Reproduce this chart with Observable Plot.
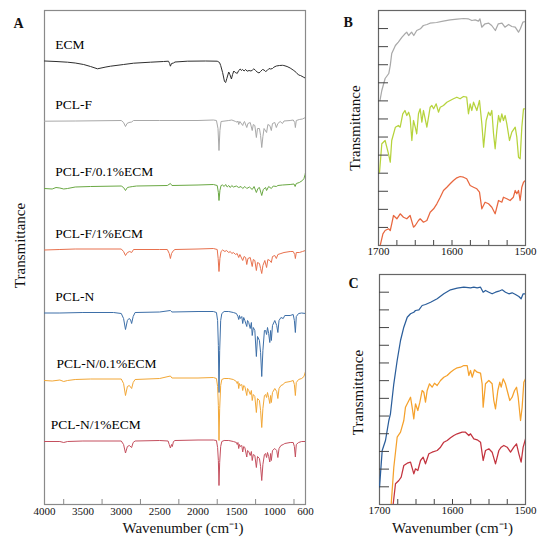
<!DOCTYPE html>
<html><head><meta charset="utf-8">
<script src="https://cdn.jsdelivr.net/npm/d3@7"></script>
<script src="https://cdn.jsdelivr.net/npm/@observablehq/plot@0.6"></script>
<style>
body{margin:0;background:#fff;}
#wrap{position:relative;width:543px;height:541px;overflow:hidden;background:#fff;}
#wrap svg{position:absolute;overflow:visible;}
</style></head><body><div id="wrap"></div>
<script>
// ---------- Panel A spectra: [wavenumber cm-1, reading (inverted transmittance units)] ----------
const ecm = [[4000,60.5],[3850,61],[3700,61.7],[3600,62.5],[3490,64],[3400,66],[3310,68.3],[3200,66.5],[3140,65.7],[2970,64],[2840,62.7],[2620,61.7],[2450,61],[2385,60.7],[2370,63],[2360,65.7],[2345,63],[2320,62.5],[2300,61.5],[2140,60.7],[1900,60.5],[1750,60.7],[1720,62],[1705,65],[1680,72],[1655,81],[1640,82],[1625,78],[1600,71.5],[1585,74],[1565,78.5],[1550,74],[1534,70.5],[1515,72],[1500,72.5],[1490,73],[1470,70],[1450,68.5],[1435,70],[1420,69],[1400,70.5],[1380,69],[1360,70.7],[1335,70],[1310,70.5],[1290,69.5],[1273,68.3],[1250,70],[1230,71.5],[1205,72.5],[1186,71],[1160,69],[1140,69.5],[1120,71],[1099,70],[1075,68],[1055,68.5],[1030,68],[1012,66.7],[980,65.5],[940,65],[900,64.8],[882,65],[840,66],[800,67.5],[752,70],[720,72],[690,74.5],[665,75],[630,76.5],[600,77.7]];
const pclF = [[4000,120.7],[3600,120.5],[3000,120],[2970,122],[2945,126],[2925,123],[2900,122],[2865,121.5],[2840,120],[2500,120],[2000,120],[1800,119.5],[1760,120],[1740,128],[1727,150],[1715,130],[1700,121],[1600,120],[1560,119.5],[1510,121],[1490,121.7],[1480,120.5],[1470,124],[1455,121],[1418,125],[1405,122],[1395,121],[1365,127],[1350,123],[1320,122],[1294,130],[1280,124],[1260,125],[1240,137],[1225,128],[1200,128],[1185,135],[1170,147],[1155,136],[1140,128],[1107,132],[1090,124],[1065,125],[1045,130],[1030,123],[1000,122],[980,127],[960,123],[930,121],[900,123],[880,120.5],[800,120],[760,119.5],[740,122],[732,127],[720,120],[680,119],[640,118.5],[600,117]];
const pclF01 = [[4000,188],[3900,188.5],[3850,187],[3800,187.5],[3750,188.5],[3700,188],[3600,186.5],[3400,186],[3000,185.5],[2970,187],[2945,190],[2920,187],[2890,186.5],[2850,186],[2800,185.5],[2400,185],[2360,183],[2340,185],[2000,184.5],[1800,184],[1750,185],[1735,192],[1727,200],[1715,190],[1700,185],[1680,184.5],[1660,186],[1640,184],[1620,186.5],[1600,185],[1580,187],[1560,185],[1540,186.5],[1500,185.5],[1470,187],[1440,186],[1418,188],[1390,186],[1365,188],[1330,186.5],[1294,189],[1270,186],[1240,192],[1220,188],[1200,187],[1170,195],[1150,189],[1120,187],[1107,190],[1080,186],[1045,188],[1020,185.5],[980,186],[960,185],[900,184.5],[800,184],[750,183.5],[735,186],[720,183],[680,182],[640,180],[620,178],[605,174],[600,172]];
const pclF1 = [[4000,249.5],[3800,249],[3600,248.5],[3000,248.5],[2970,251],[2945,255],[2920,252],[2890,251],[2865,252],[2840,249],[2500,249],[2400,249],[2375,253],[2360,258],[2345,253],[2320,250],[2300,249],[2000,248.5],[1800,248],[1750,249],[1738,258],[1727,271],[1715,258],[1700,251],[1680,249.5],[1650,251],[1630,250],[1600,252],[1580,251],[1560,253],[1540,252],[1510,254],[1490,253],[1470,257],[1455,254],[1418,260],[1400,256],[1380,257],[1365,264],[1350,258],[1320,257],[1294,266],[1280,259],[1260,260],[1240,270],[1225,262],[1200,263],[1185,268],[1170,273],[1155,265],[1130,260],[1107,267],[1090,259],[1065,260],[1045,262],[1030,256],[1000,255],[980,258],[960,254],[920,253],[880,252],[800,251],[760,251],[740,254],[732,258],[720,252],[680,252],[640,251],[600,250]];
const pclN = [[4000,312.5],[3800,312.5],[3500,312],[3100,312],[3000,313],[2970,318],[2945,329],[2920,320],[2900,318],[2880,319],[2865,323],[2845,316],[2820,312],[2500,311.5],[2360,310],[2340,311.5],[2000,311],[1800,311],[1760,312],[1745,320],[1735,345],[1727,392],[1718,350],[1705,320],[1690,313],[1660,311],[1600,311],[1540,312],[1500,313],[1480,316],[1470,319],[1460,315],[1450,318],[1430,316],[1418,323],[1405,317],[1390,320],[1365,326],[1355,320],[1340,322],[1320,328],[1305,322],[1294,335],[1280,327],[1260,330],[1240,356],[1225,336],[1200,340],[1185,352],[1170,376],[1155,350],[1135,330],[1120,330],[1107,334],[1095,327],[1080,333],[1065,342],[1055,330],[1045,340],[1030,325],[1000,320],[975,325],[960,332],[945,320],[920,317],[890,318],[870,315],[800,315],[760,314],[745,320],[732,332],[720,316],[690,313],[650,312.5],[600,313]];
const pclN01 = [[4000,380],[3900,380.5],[3800,379.5],[3750,381],[3700,380],[3600,379],[3400,378.5],[3000,378.5],[2970,383],[2945,395],[2920,386],[2895,385],[2865,388],[2845,382],[2820,379],[2500,378],[2360,375.5],[2340,377.5],[2000,377.5],[1800,377],[1760,378],[1745,386],[1735,405],[1727,440],[1718,408],[1705,385],[1690,379],[1660,378],[1600,378],[1540,379],[1500,381],[1490,383],[1480,381],[1470,388],[1460,383],[1450,385],[1430,384],[1418,390],[1405,385],[1390,386],[1365,395],[1355,388],[1340,390],[1320,394],[1305,390],[1294,400],[1280,394],[1260,396],[1240,412],[1225,398],[1200,400],[1185,410],[1170,427],[1155,408],[1135,395],[1120,394],[1107,397],[1095,392],[1080,397],[1065,403],[1055,395],[1045,402],[1030,392],[1000,388],[975,391],[960,398],[945,388],[920,385],[890,384],[870,382],[800,381],[760,380],[745,384],[732,395],[720,382],[690,379],[650,378],[620,376],[600,371]];
const pclN1 = [[4000,441],[3800,441],[3750,442],[3700,441],[3500,440.5],[3000,440.5],[2970,444],[2945,452.5],[2920,446],[2895,445],[2865,447],[2845,442],[2820,440.5],[2500,440],[2390,440.5],[2375,444],[2360,447.5],[2345,444],[2335,446],[2320,441],[2300,440],[2000,439.5],[1800,439.5],[1760,440],[1745,447],[1735,460],[1727,485],[1718,462],[1705,446],[1690,441],[1660,440],[1600,440],[1540,441],[1500,442],[1490,444],[1480,442],[1470,448],[1460,444],[1450,446],[1430,445],[1418,451.5],[1405,446],[1390,447],[1365,456.5],[1355,450],[1340,451],[1320,455],[1305,451],[1294,460],[1280,454],[1260,455],[1240,467],[1225,456],[1200,458],[1185,466],[1170,480],[1155,464],[1135,454],[1120,453],[1107,457],[1095,452],[1080,456],[1065,461.5],[1055,453],[1045,460],[1030,450],[1000,448],[975,450],[960,457],[945,448],[920,445],[890,444],[870,443],[800,442],[760,442],[745,446],[732,456.5],[720,444],[690,442],[650,441],[600,441]];

// ---------- Panel B spectra (1700-1500 cm-1) ----------
const bGray = [[1698,100],[1695.5,90],[1691,78],[1686,73],[1684,65],[1682,53],[1677,45],[1673,41.7],[1668,36.7],[1664,33.3],[1661.5,31.7],[1659,35],[1655,31.7],[1652,35],[1648,30],[1643,28.3],[1639,25],[1634,24],[1630,22.7],[1621,22],[1612,20.7],[1602.5,19.3],[1593,18.7],[1584,18],[1578,18.3],[1573,20],[1568.5,19.3],[1564,20.7],[1562,18.3],[1559.5,26.7],[1555,23.3],[1550,22.7],[1546,25],[1541,30],[1537,23.3],[1532,22.7],[1528,26.7],[1523,24],[1518.6,26],[1514,26.7],[1509.5,31.7],[1507,28.3],[1503.6,21.7],[1500,21]];
const bGreen = [[1698.6,171.7],[1695.5,143.3],[1691,140],[1686.4,153.3],[1684,161.7],[1682,140],[1677,126.7],[1673,125],[1670.5,126.7],[1667,113.3],[1664,110],[1661.5,115],[1659,111.7],[1657,116.7],[1654.6,140],[1652.4,120],[1650,126.7],[1648,133.3],[1645.6,113.3],[1643.3,108.3],[1641,121.7],[1638.8,110],[1634.2,126.7],[1629.7,106.7],[1627.4,105],[1625,108.3],[1621.5,103.3],[1618.4,111.7],[1616,106.7],[1611.6,105],[1607,101.7],[1602.5,100],[1598,98.3],[1593.4,96.7],[1589,98.3],[1584.4,96],[1580,96.7],[1577.6,113.3],[1575.3,103.3],[1573,110],[1570.7,101.7],[1566.2,110],[1562.6,100],[1559.4,123.3],[1557,146.7],[1553.5,120],[1550.3,111.7],[1548,115],[1545.8,110],[1543.5,133.3],[1541.3,148.3],[1539,130],[1536.7,115],[1534.5,121.7],[1532.2,113.3],[1530,120],[1527.7,115],[1525.4,123.3],[1521.8,140],[1518.6,131.7],[1514,126.7],[1511.8,136.7],[1509.5,156.7],[1507.3,158.3],[1505,126.7],[1502.7,108.3],[1500,108.3]];
const bRed = [[1697.7,245],[1694,233.3],[1691,230],[1686.4,228.3],[1684,230],[1682,223.3],[1679.6,215],[1675,218.3],[1670.5,213.3],[1666,216.7],[1661.5,218.3],[1657,215],[1652.4,226.7],[1650,225],[1645.6,220],[1643.3,218.3],[1638.8,221.7],[1634.2,220],[1629.7,211.7],[1625,208.3],[1620.6,203.3],[1616,196.7],[1611.6,190],[1607,186.7],[1602.5,183.3],[1598,180],[1593.4,177.3],[1589,176],[1584.4,176.7],[1580,178.3],[1575.3,185],[1570.7,186.7],[1566.2,188.3],[1562.6,191.7],[1559.4,208.3],[1555,201.7],[1550.3,203.3],[1545.8,206.7],[1541.3,213.3],[1536.7,200],[1532.2,201.7],[1530,196.7],[1525.4,198.3],[1521,200],[1516.5,196.7],[1514,190],[1511.8,193.3],[1509.5,190],[1507.3,200],[1505,186.7],[1502.7,181.7],[1500,180]];

// ---------- Panel C spectra (1700-1500 cm-1) ----------
const cBlue = [[1700,486.7],[1696.3,450],[1691.8,440],[1687.2,420],[1685,413.3],[1680.4,383.3],[1675.8,360],[1671.2,340],[1666.7,326.7],[1662,316.7],[1657.5,313.3],[1653,311.7],[1650.7,310],[1646,309.3],[1641.6,305],[1637,304],[1630,301.7],[1621,298.3],[1611.9,293.3],[1602.7,289.3],[1593.6,287.7],[1584.5,286.7],[1575.3,287.3],[1570.8,286.7],[1566.2,287.3],[1561.6,286.7],[1558,291.7],[1554.8,290],[1550.2,291.7],[1545.7,293.3],[1541.1,291.7],[1536.5,290.7],[1532,289.3],[1527.4,291.7],[1522.8,293.3],[1518.3,292.3],[1513.7,294],[1509.1,296],[1506,298.3],[1503.2,293.3],[1500,293.3]];
const cOrange = [[1684,504],[1680.4,466.7],[1675.8,436.7],[1671.2,431.7],[1666.7,420],[1664.4,406.7],[1662,403.3],[1657.5,396.7],[1655.3,406.7],[1653,418.3],[1650.7,403.3],[1647.5,410],[1644.7,401.7],[1641.6,390],[1639.3,391.7],[1637,401.7],[1634.7,390],[1631.5,383.3],[1627.9,386.7],[1624.7,382.7],[1621,385],[1616.4,380],[1611.9,376.7],[1607.3,375],[1602.7,371.7],[1598.2,369.3],[1593.6,367.3],[1589,366.7],[1584.5,365],[1579.9,365],[1577.6,375],[1575.3,370],[1573,376.7],[1569.9,369.3],[1566.2,371.7],[1561.6,372.7],[1559.4,383.3],[1558,406.7],[1554.8,383.3],[1550.2,380],[1545.7,383.3],[1543.4,400],[1541.1,408.3],[1537.9,390],[1535.2,381.7],[1533.3,386.7],[1530.6,378.3],[1527.4,383.3],[1525.1,390],[1521.5,400],[1518.3,396.7],[1515,390],[1512.3,386.7],[1510,396.7],[1506.8,420],[1504.6,406.7],[1502.3,381.7],[1500,378.3]];
const cRed = [[1681.3,504],[1678.1,483.3],[1673.5,480],[1670.3,476.7],[1666.7,465],[1662,462.7],[1657.5,461.7],[1653,473.3],[1650.7,468.3],[1647.5,470],[1643.8,460],[1640.2,456.7],[1637,463.3],[1632.4,453.3],[1627.9,451.7],[1621,450],[1616.4,446.7],[1611.9,441.7],[1607.3,440],[1602.7,437.3],[1598.2,435],[1593.6,433.3],[1586.8,431.7],[1582.2,431.7],[1577.6,435],[1575.3,433.3],[1570.8,438.3],[1566.2,439.3],[1561.6,441.7],[1558,460],[1554.8,450],[1550.2,448.3],[1545.7,451.7],[1541.1,463.3],[1536.5,450],[1533.3,446.7],[1529.7,445],[1525.1,446.7],[1520.5,451.7],[1516,446.7],[1512.3,443.3],[1509.1,453.3],[1506,461.7],[1503.2,446.7],[1500,438.3]];

const namesA = ["ECM","PCL-F","PCL-F/0.1%ECM","PCL-F/1%ECM","PCL-N","PCL-N/0.1%ECM","PCL-N/1%ECM"];
const dataA = [ecm, pclF, pclF01, pclF1, pclN, pclN01, pclN1];
const colorsA = ["#2e2e2e","#a8a8a8","#6aa843","#e8714e","#3d6fa8","#f2a736","#c44f5e"];
const xLabelTicksA = [4000,3500,3000,2500,2000,1500,1000,600];
const xMinorTicksA = [3750,3250,2750,2250,1750,1250,750];
const xLabelTicksBC = [1700,1600,1500];
const xMinorTicksBC = [1675,1650,1625,1600,1575,1550,1525];
const dataB = [bGray, bGreen, bRed];
const colorsB = ["#a9a9a9","#b6d33c","#e8673f"];
const dataC = [cBlue, cOrange, cRed];
const colorsC = ["#2b5e9b","#f5a12c","#c3343f"];

const FONT = "'Liberation Serif','Times New Roman',serif";
const FRAME = "#8a8a8a";
const wrap = document.getElementById("wrap");

function place(svg, left, top) {
  svg.style.left = left + "px";
  svg.style.top = top + "px";
  wrap.appendChild(svg);
}

// ---------------- Panel A ----------------
{
  const W = 330, H = 541, mt = 10, mr = 25, mb = 37, ml = 44;
  const yDom = [504, 10];
  const marks = [Plot.frame({stroke: FRAME, strokeWidth: 1.2})];
  dataA.forEach((d, i) => marks.push(Plot.line(d, {x: p => p[0], y: p => p[1], stroke: colorsA[i], strokeWidth: 1, clip: true})));
  const labelX = n => n === "PCL-N/1%ECM" ? 3920 : (n === "PCL-N/0.1%ECM" ? 3844 : 3860);
  marks.push(Plot.text(namesA.map((n, i) => ({n, i})), {
    x: d => labelX(d.n), y: d => dataA[d.i][0][1] - 16.5, text: d => d.n,
    textAnchor: "start", fontSize: 13.5, fill: "#000"
  }));
  marks.push(Plot.ruleX(xMinorTicksA, {x: d => d, y1: yDom[0], y2: yDom[0] - 5, stroke: FRAME}));
  marks.push(Plot.axisX({ticks: xLabelTicksA, tickSize: 0, tickPadding: 3, tickFormat: d => String(d), fontSize: 11}));
  marks.push(Plot.text(["Wavenumber (cm⁻¹)"], {frameAnchor: "bottom", textAnchor: "middle", dx: 8, dy: 28, fontSize: 15}));
  marks.push(Plot.text(["Transmittance"], {frameAnchor: "left", textAnchor: "middle", rotate: -90, dx: -24, dy: -12, fontSize: 15}));
  marks.push(Plot.text(["A"], {frameAnchor: "top-left", textAnchor: "start", dx: -31, dy: 8, fontSize: 14, fontWeight: "bold"}));
  const svg = Plot.plot({
    width: W, height: H, marginTop: mt, marginRight: mr, marginBottom: mb, marginLeft: ml,
    x: {domain: [4000, 600], axis: null}, y: {domain: yDom, axis: null},
    style: {fontFamily: FONT, fontSize: "11px", background: "transparent", color: "#111"},
    marks
  });
  place(svg, 0, 0);
}

// ---------------- Panels B & C ----------------
function zoomPanel({data, colors, left, top, W, H, mt, mr, mb, ml, yDom, letter, letterDx, letterDy, tDx, tDy, showTitle}) {
  const innerW = W - ml - mr;
  const tickLen = 10 * 200 / innerW; // 10 px, expressed in wavenumber units
  const span = yDom[0] - yDom[1];
  const yTicks = d3.range(1, 13).map(k => yDom[0] - k * span / 13);
  const marks = [Plot.frame({stroke: "#666", strokeWidth: 1.2})];
  data.forEach((d, i) => marks.push(Plot.line(d, {x: p => p[0], y: p => p[1], stroke: colors[i], strokeWidth: 1.25, clip: true})));
  marks.push(Plot.ruleY(yTicks, {y: d => d, x1: 1700, x2: 1700 - tickLen, stroke: "#444"}));
  marks.push(Plot.ruleX(xMinorTicksBC, {x: d => d, y1: yDom[0], y2: yDom[0] - 5, stroke: "#444"}));
  marks.push(Plot.axisX({ticks: xLabelTicksBC, tickSize: 0, tickPadding: 2, tickFormat: d => String(d), fontSize: 11}));
  marks.push(Plot.text(["Transmittance"], {frameAnchor: "left", textAnchor: "middle", rotate: -90, dx: tDx, dy: tDy, fontSize: 15}));
  marks.push(Plot.text([letter], {frameAnchor: "top-left", textAnchor: "start", dx: letterDx, dy: letterDy, fontSize: 14, fontWeight: "bold"}));
  if (showTitle) marks.push(Plot.text(["Wavenumber (cm⁻¹)"], {frameAnchor: "bottom", textAnchor: "middle", dx: 0, dy: 28, fontSize: 15}));
  const svg = Plot.plot({
    width: W, height: H, marginTop: mt, marginRight: mr, marginBottom: mb, marginLeft: ml,
    x: {domain: [1700, 1500], axis: null}, y: {domain: yDom, axis: null},
    style: {fontFamily: FONT, fontSize: "11px", background: "transparent", color: "#111"},
    marks
  });
  place(svg, left, top);
}

zoomPanel({data: dataB, colors: colorsB, left: 330, top: 0, W: 213, H: 260, mt: 10, mr: 18, mb: 15, ml: 48,
  yDom: [245, 10], letter: "B", letterDx: -35, letterDy: 7, tDx: -23, tDy: 0, showTitle: false});
zoomPanel({data: dataC, colors: colorsC, left: 330, top: 260, W: 213, H: 281, mt: 14, mr: 18, mb: 37, ml: 49,
  yDom: [504, 274], letter: "C", letterDx: -31, letterDy: 4, tDx: -21, tDy: 3, showTitle: true});
</script></body></html>
